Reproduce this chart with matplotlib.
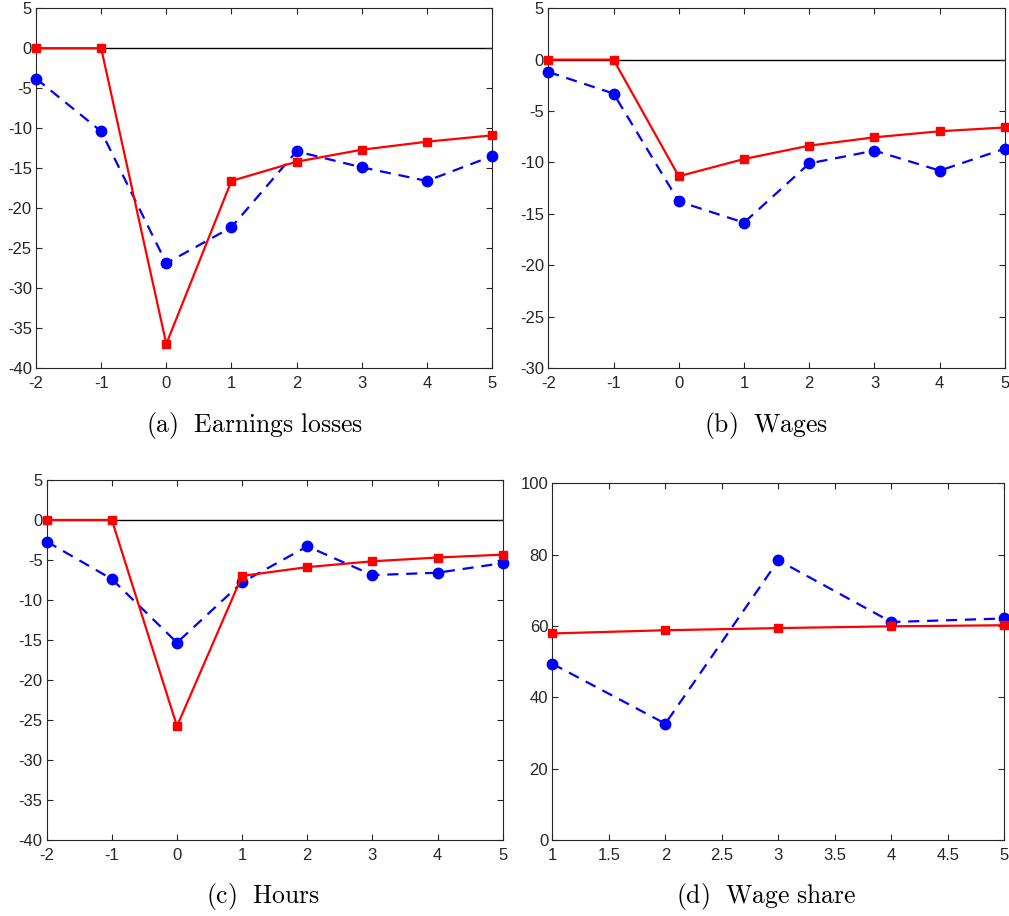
import numpy as np
import matplotlib.pyplot as plt

plt.rcParams['font.family'] = ['Liberation Sans', 'DejaVu Sans']
plt.rcParams['mathtext.fontset'] = 'cm'
plt.rcParams['axes.unicode_minus'] = False

# event time (years relative to displacement)
t = [-2, -1, 0, 1, 2, 3, 4, 5]
t_share = [1, 2, 3, 4, 5]

# earnings losses
earn_model = [0, 0, -37.0, -16.6, -14.2, -12.7, -11.7, -10.9]
earn_data = [-3.8, -10.4, -26.9, -22.4, -12.9, -14.9, -16.6, -13.5]

# wages
wage_model = [0, 0, -11.35, -9.67, -8.37, -7.56, -6.97, -6.6]
wage_data = [-1.2, -3.3, -13.8, -15.86, -10.1, -8.85, -10.8, -8.66]

# hours
hours_model = [0, 0, -25.8, -7.0, -5.9, -5.17, -4.7, -4.34]
hours_data = [-2.7, -7.4, -15.35, -7.8, -3.3, -6.9, -6.6, -5.4]

# wage share
share_model = [57.9, 58.8, 59.4, 59.9, 60.2]
share_data = [49.4, 32.6, 78.4, 61.1, 62.1]

fig = plt.figure(figsize=(10.09, 9.16), dpi=100)

ax_a = fig.add_axes([0.0357, 0.5983, 0.4519, 0.3927])
ax_b = fig.add_axes([0.5434, 0.5983, 0.4526, 0.3927])
ax_c = fig.add_axes([0.0463, 0.0833, 0.4519, 0.3927])
ax_d = fig.add_axes([0.5474, 0.0830, 0.4480, 0.3894])


def draw(ax, x, model, data, zero_line=True):
    if zero_line:
        ax.axhline(0, color='black', lw=1.0, zorder=1)
    ax.plot(x, data, color='blue', ls='--', lw=1.6, marker='o', ms=7.5,
            dashes=(5, 3.5), zorder=3, clip_on=False)
    ax.plot(x, model, color='red', ls='-', lw=1.6, marker='s', ms=6,
            zorder=4, clip_on=False)
    ax.tick_params(direction='in', top=True, right=True, length=4,
                   labelsize=12, colors='#262626')
    ax.tick_params(axis='x', pad=6)
    ax.tick_params(axis='y', pad=3)
    for s in ax.spines.values():
        s.set_color('#262626')
        s.set_linewidth(0.8)


draw(ax_a, t, earn_model, earn_data)
ax_a.set_xlim(-2, 5)
ax_a.set_ylim(-40, 5)
ax_a.set_xticks(range(-2, 6))
ax_a.set_yticks(range(-40, 6, 5))

draw(ax_b, t, wage_model, wage_data)
ax_b.set_xlim(-2, 5)
ax_b.set_ylim(-30, 5)
ax_b.set_xticks(range(-2, 6))
ax_b.set_yticks(range(-30, 6, 5))

draw(ax_c, t, hours_model, hours_data)
ax_c.set_xlim(-2, 5)
ax_c.set_ylim(-40, 5)
ax_c.set_xticks(range(-2, 6))
ax_c.set_yticks(range(-40, 6, 5))

draw(ax_d, t_share, share_model, share_data, zero_line=False)
ax_d.set_xlim(1, 5)
ax_d.set_ylim(0, 100)
ax_d.set_xticks(np.arange(1, 5.01, 0.5))
ax_d.set_xticklabels(['1', '1.5', '2', '2.5', '3', '3.5', '4', '4.5', '5'])
ax_d.set_yticks(range(0, 101, 20))

captions = [
    (0.252, 0.536, r'$\mathrm{(a)\ \ Earnings\ losses}$'),
    (0.759, 0.536, r'$\mathrm{(b)\ \ Wages}$'),
    (0.261, 0.021, r'$\mathrm{(c)\ \ Hours}$'),
    (0.759, 0.021, r'$\mathrm{(d)\ \ Wage\ share}$'),
]
for x, y, s in captions:
    fig.text(x, y, s, ha='center', va='center', fontsize=18.5)

fig.savefig('out.png', dpi=100)
